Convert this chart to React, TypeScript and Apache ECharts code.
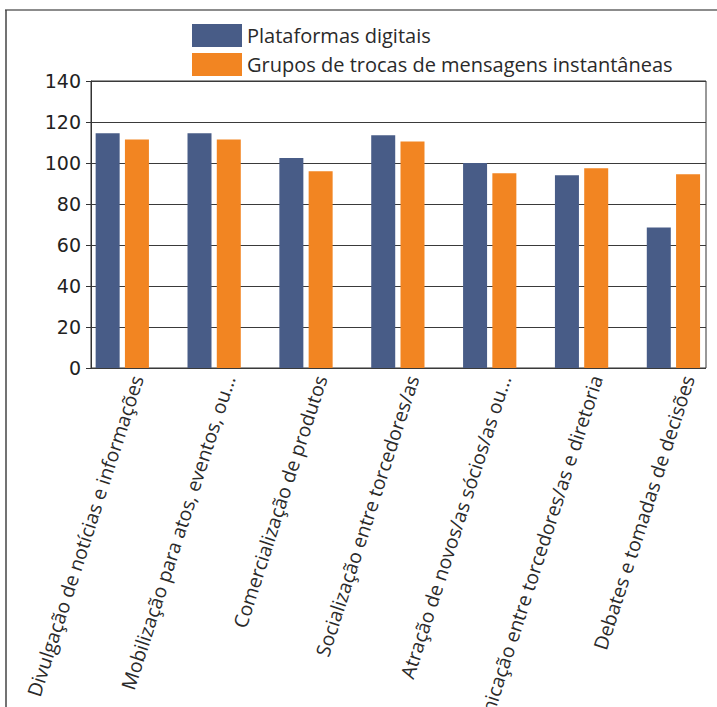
import React, { useEffect, useRef } from "react";
import * as echarts from "echarts";

// Categories (axis labels)
const categories: string[] = [
  "Divulgação de notícias e informações",
  "Mobilização para atos, eventos, ou...",
  "Comercialização de produtos",
  "Socialização entre torcedores/as",
  "Atração de novos/as sócios/as ou...",
  "Comunicação entre torcedores/as e diretoria",
  "Debates e tomadas de decisões",
];

const seriesNames: string[] = [
  "Plataformas digitais",
  "Grupos de trocas de mensagens instantâneas",
];

const plataformasDigitais: number[] = [114.5, 114.5, 102.5, 113.5, 100, 94, 68.5];
const gruposMensagens: number[] = [111.5, 111.5, 96, 110.5, 95, 97.5, 94.5];

// Placeholder column used to reserve the third slot in each group
const reservedSlot: number[] = [0, 0, 0, 0, 0, 0, 0];

const yTicks = { min: 0, max: 140, interval: 20 };

const BLUE = "#485c87";
const ORANGE = "#f28522";
const FONT = "Open Sans";

export default function App() {
  const ref = useRef<HTMLDivElement>(null);

  useEffect(() => {
    if (!ref.current) return;
    const chart = echarts.init(ref.current, null, { renderer: "svg" });

    const option: any = {
      animation: false,
      backgroundColor: "#ffffff",
      legend: {
        data: seriesNames,
        orient: "vertical",
        left: 187,
        top: 19,
        itemWidth: 50,
        itemHeight: 23,
        itemGap: 6,
        icon: "rect",
        selectedMode: false,
        textStyle: { fontFamily: FONT, fontSize: 20, color: "#2a2a2a" },
      },
      graphic: [
        {
          type: "line",
          shape: { x1: 5, y1: 10, x2: 717, y2: 10 },
          style: { stroke: "#8c8c8c", lineWidth: 2 },
          silent: true,
        },
        {
          type: "line",
          shape: { x1: 6, y1: 10, x2: 6, y2: 707 },
          style: { stroke: "#444", lineWidth: 1.5 },
          silent: true,
        },
      ],
      grid: [
        {
          left: 91,
          top: 81,
          width: 615,
          height: 287,
          show: true,
          borderColor: "#333",
          borderWidth: 1,
          containLabel: false,
          outerBoundsMode: "none",
        },
        {
          left: 91,
          top: 81,
          width: 643,
          height: 287,
          containLabel: false,
          outerBoundsMode: "none",
        },
      ],
      xAxis: [
        {
          gridIndex: 0,
          type: "value",
          min: 0,
          max: 1,
          show: false,
        },
        {
          gridIndex: 1,
          type: "category",
          data: categories,
          axisLine: { show: false },
          axisTick: { show: false },
          splitLine: { show: false },
          axisLabel: {
            interval: 0,
            rotate: 72,
            margin: 8,
            fontFamily: FONT,
            fontSize: 19.5,
            color: "#2a2a2a",
          },
        },
      ],
      yAxis: [
        {
          gridIndex: 0,
          type: "value",
          min: yTicks.min,
          max: yTicks.max,
          interval: yTicks.interval,
          axisLine: { show: true, lineStyle: { color: "#333", width: 1 } },
          axisTick: { show: true, inside: false, length: 5, lineStyle: { color: "#333" } },
          splitLine: { show: true, lineStyle: { color: "#3a3a3a", width: 1 } },
          axisLabel: {
            margin: 10,
            fontFamily: "DejaVu Sans",
            fontSize: 19,
            color: "#222",
          },
        },
        {
          gridIndex: 1,
          type: "value",
          min: yTicks.min,
          max: yTicks.max,
          show: false,
          splitLine: { show: false },
        },
      ],
      series: [
        {
          name: seriesNames[0],
          type: "bar",
          xAxisIndex: 1,
          yAxisIndex: 1,
          data: plataformasDigitais,
          barWidth: 24,
          barGap: "22%",
          itemStyle: { color: BLUE },
        },
        {
          name: seriesNames[1],
          type: "bar",
          xAxisIndex: 1,
          yAxisIndex: 1,
          data: gruposMensagens,
          barWidth: 24,
          barGap: "22%",
          itemStyle: { color: ORANGE },
        },
        {
          name: "reserved",
          type: "bar",
          xAxisIndex: 1,
          yAxisIndex: 1,
          data: reservedSlot,
          barWidth: 24,
          barGap: "22%",
          silent: true,
          itemStyle: { color: "transparent" },
        },
      ],
    };

    chart.setOption(option);
    return () => chart.dispose();
  }, []);

  return (
    <div
      ref={ref}
      style={{ position: "absolute", left: 0, top: 0, width: 717, height: 707 }}
    />
  );
}
